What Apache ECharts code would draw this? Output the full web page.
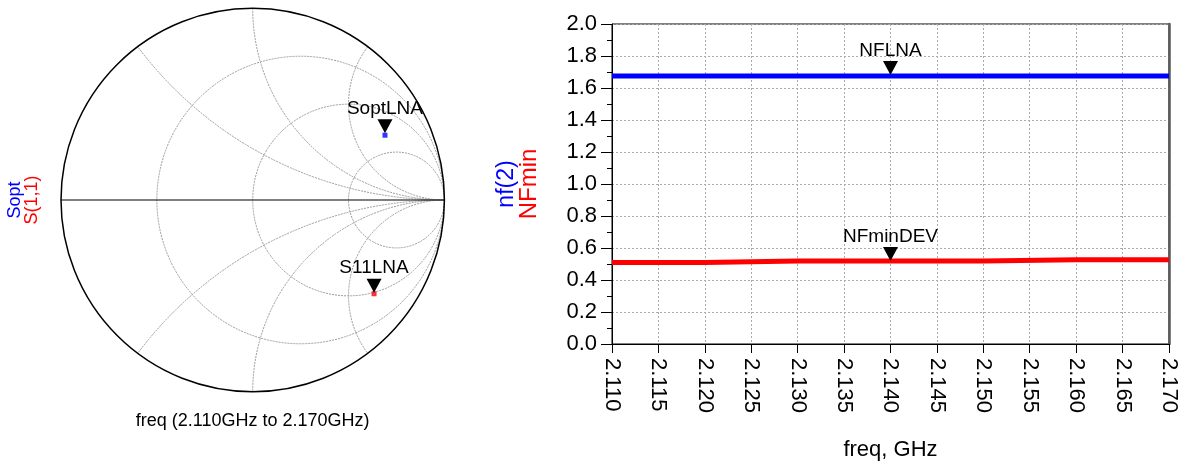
<!DOCTYPE html>
<html>
<head>
<meta charset="utf-8">
<script src="https://cdn.jsdelivr.net/npm/echarts@6/dist/echarts.min.js"></script>
<style>
  html, body { margin: 0; padding: 0; background: #fff; }
  #chart { width: 1199px; height: 464px; }
</style>
</head>
<body>
<div id="chart"></div>
<script>
// ---- Smith chart data (reflection coefficient, real / imaginary) ----
const resistanceCircles = [1 / 3, 1, 3];
const reactanceArcs = [0.5, 1, 2];
const soptRe = [0.690];
const soptIm = [0.338];
const s11Re = [0.633];
const s11Im = [-0.489];
const smithMarkerNames = ['SoptLNA', 'S11LNA'];
const smithTitle = 'freq (2.110GHz to 2.170GHz)';

// ---- Noise figure vs frequency ----
const freqGHz = [2.110, 2.120, 2.130, 2.140, 2.150, 2.160, 2.170];
const nfLNA = [1.675, 1.675, 1.675, 1.675, 1.675, 1.675, 1.675];
const nfMinDEV = [0.509, 0.518, 0.518, 0.518, 0.527, 0.527, 0.527];
const markerFreq = 2.140;
const nfMarkerNames = ['NFLNA', 'NFminDEV'];

const FONT = '"Liberation Sans", Arial, sans-serif';
const triPath = 'path://M0 0L14 0L7 14Z';

const chart = echarts.init(document.getElementById('chart'), null, { renderer: 'canvas' });

// grid item list: [kind, value] kind 0 = resistance circle, 1 = reactance arc, 2 = outer circle + real axis
const smithGridItems = []
  .concat(resistanceCircles.map(r => [0, r]))
  .concat(reactanceArcs.map(x => [1, x]))
  .concat(reactanceArcs.map(x => [1, -x]))
  .concat([[2, 0]]);

function smithGrid(params, api) {
  const kind = api.value(0);
  const v = api.value(1);
  const c0 = api.coord([0, 0]);
  const R = api.size([1, 0])[0];
  const gstyle = { fill: null, stroke: '#9a9a9a', lineWidth: 1, lineDash: [2, 1] };
  if (kind === 0) {
    const c = api.coord([v / (v + 1), 0]);
    return { type: 'circle', shape: { cx: c[0], cy: c[1], r: R / (v + 1) }, style: gstyle };
  }
  if (kind === 1) {
    const c = api.coord([1, 1 / v]);
    return {
      type: 'circle',
      shape: { cx: c[0], cy: c[1], r: R / Math.abs(v) },
      style: gstyle,
      clipPath: { type: 'circle', shape: { cx: c0[0], cy: c0[1], r: R } }
    };
  }
  const l = api.coord([-1, 0]);
  const r = api.coord([1, 0]);
  return {
    type: 'group',
    children: [
      { type: 'circle', shape: { cx: c0[0], cy: c0[1], r: R }, style: { fill: null, stroke: '#000', lineWidth: 1.5 } },
      { type: 'line', shape: { x1: l[0], y1: l[1], x2: r[0], y2: r[1] }, style: { stroke: '#000', lineWidth: 1.2 } }
    ]
  };
}

function markerLabel() {
  return { show: true, position: 'top', distance: 1, color: '#000', fontSize: 19, fontFamily: FONT };
}

const option = {
  animation: false,
  textStyle: { fontFamily: FONT },
  grid: [
    { left: 61, top: 8.3, width: 383.4, height: 383.4, outerBoundsMode: 'none', containLabel: false },
    { left: 612, top: 24, width: 557, height: 320, show: true, borderColor: '#000', borderWidth: 1, outerBoundsMode: 'none', containLabel: false }
  ],
  xAxis: [
    {
      gridIndex: 0, type: 'value', min: -1, max: 1,
      axisLine: { show: false }, axisTick: { show: false }, axisLabel: { show: false }, splitLine: { show: false },
      name: smithTitle, nameLocation: 'middle', nameGap: 20,
      nameTextStyle: { color: '#000', fontSize: 18, fontFamily: FONT }
    },
    {
      gridIndex: 1, type: 'value', min: 2.110, max: 2.170, interval: 0.005,
      axisLine: { show: true, lineStyle: { color: '#000', width: 1 } },
      axisTick: { show: true, length: 9, lineStyle: { color: '#000' } },
      axisLabel: {
        rotate: -90, margin: 14, fontSize: 22, color: '#000', fontFamily: FONT,
        formatter: v => v.toFixed(3)
      },
      splitLine: { show: true, lineStyle: { color: '#aaa', type: [2, 2], width: 1 } },
      name: 'freq, GHz', nameLocation: 'middle', nameGap: 95,
      nameTextStyle: { color: '#000', fontSize: 22, fontFamily: FONT }
    }
  ],
  yAxis: [
    {
      gridIndex: 0, type: 'value', min: -1, max: 1,
      axisLine: { show: false }, axisTick: { show: false }, axisLabel: { show: false }, splitLine: { show: false },
      name: '{a|Sopt}\n{b|S(1,1)}', nameLocation: 'middle', nameRotate: 90, nameGap: 20,
      nameTextStyle: {
        fontFamily: FONT,
        rich: {
          a: { color: '#0000ff', fontSize: 18, lineHeight: 17, fontFamily: FONT },
          b: { color: '#ff0000', fontSize: 18, lineHeight: 17, fontFamily: FONT }
        }
      }
    },
    {
      gridIndex: 1, type: 'value', min: 0, max: 2, interval: 0.2,
      axisLine: { show: true, lineStyle: { color: '#000', width: 1 } },
      axisTick: { show: true, length: 11, lineStyle: { color: '#000' } },
      minorTick: { show: true, splitNumber: 2, length: 5, lineStyle: { color: '#000' } },
      axisLabel: { margin: 15, fontSize: 22, color: '#000', fontFamily: FONT, formatter: v => v.toFixed(1) },
      splitLine: { show: true, lineStyle: { color: '#aaa', type: [2, 2], width: 1 } },
      name: '{a|nf(2)}\n{b|NFmin}', nameLocation: 'middle', nameRotate: 90, nameGap: 72,
      nameTextStyle: {
        fontFamily: FONT,
        rich: {
          a: { color: '#0000ff', fontSize: 23, lineHeight: 22, fontFamily: FONT },
          b: { color: '#ff0000', fontSize: 24, lineHeight: 22, fontFamily: FONT }
        }
      }
    },
    {
      gridIndex: 1, type: 'value', min: 0, max: 2, position: 'right',
      axisLine: { show: true, lineStyle: { color: '#5a5a5a', width: 2.5 } },
      axisTick: { show: false }, axisLabel: { show: false }, splitLine: { show: false }
    }
  ],
  series: [
    {
      type: 'custom', xAxisIndex: 0, yAxisIndex: 0, silent: true,
      renderItem: smithGrid, data: smithGridItems, z: 1
    },
    {
      type: 'scatter', xAxisIndex: 0, yAxisIndex: 0, symbol: 'rect', symbolSize: 5,
      itemStyle: { color: '#0000ff' }, z: 3,
      data: soptRe.map((re, i) => [re, soptIm[i]]),
      markPoint: {
        symbol: triPath, symbolSize: [15, 14], symbolOffset: [0, -9],
        itemStyle: { color: '#000' }, label: markerLabel(),
        data: [{ name: smithMarkerNames[0], coord: [soptRe[0], soptIm[0]], label: { formatter: smithMarkerNames[0] } }]
      }
    },
    {
      type: 'scatter', xAxisIndex: 0, yAxisIndex: 0, symbol: 'rect', symbolSize: 5,
      itemStyle: { color: '#ff0000' }, z: 3,
      data: s11Re.map((re, i) => [re, s11Im[i]]),
      markPoint: {
        symbol: triPath, symbolSize: [15, 14], symbolOffset: [0, -8],
        itemStyle: { color: '#000' }, label: markerLabel(),
        data: [{ name: smithMarkerNames[1], coord: [s11Re[0], s11Im[0]], label: { formatter: smithMarkerNames[1] } }]
      }
    },
    {
      type: 'line', xAxisIndex: 1, yAxisIndex: 1, showSymbol: false, z: 3,
      data: freqGHz.map((f, i) => [f, nfLNA[i]]),
      lineStyle: { color: '#0000ff', width: 5 }, itemStyle: { color: '#0000ff' },
      markPoint: {
        symbol: triPath, symbolSize: [15, 14], symbolOffset: [0, -8],
        itemStyle: { color: '#000' }, label: markerLabel(),
        data: [{ name: nfMarkerNames[0], coord: [markerFreq, nfLNA[freqGHz.indexOf(markerFreq)]], label: { formatter: nfMarkerNames[0] } }]
      }
    },
    {
      type: 'line', xAxisIndex: 1, yAxisIndex: 1, showSymbol: false, step: 'end', z: 3,
      data: freqGHz.map((f, i) => [f, nfMinDEV[i]]),
      lineStyle: { color: '#ff0000', width: 5 }, itemStyle: { color: '#ff0000' },
      markPoint: {
        symbol: triPath, symbolSize: [15, 14], symbolOffset: [0, -7],
        itemStyle: { color: '#000' }, label: markerLabel(),
        data: [{ name: nfMarkerNames[1], coord: [markerFreq, nfMinDEV[freqGHz.indexOf(markerFreq)]], label: { formatter: nfMarkerNames[1] } }]
      }
    }
  ]
};

chart.setOption(option);
</script>
</body>
</html>
